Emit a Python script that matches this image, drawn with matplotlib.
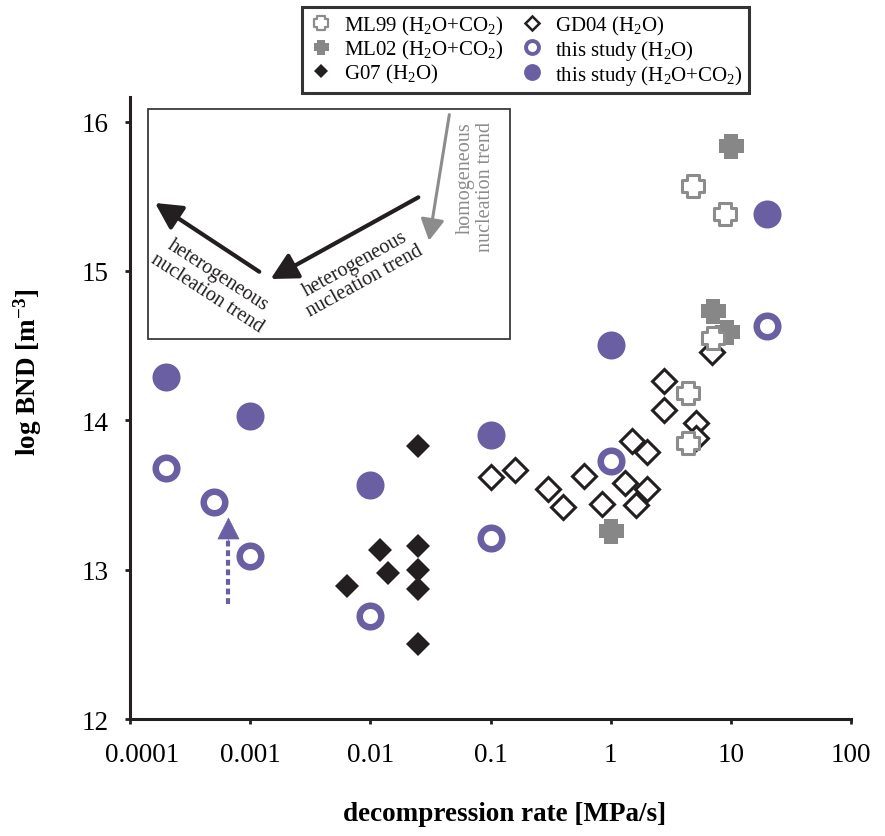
import matplotlib
matplotlib.use("Agg")
from matplotlib import pyplot as plt
from matplotlib.path import Path
from matplotlib.patches import Rectangle
from matplotlib.transforms import ScaledTranslation

plt.rcParams['font.family'] = 'Liberation Serif'
plt.rcParams['mathtext.fontset'] = 'custom'
plt.rcParams['mathtext.rm'] = 'Liberation Serif'
plt.rcParams['mathtext.it'] = 'Liberation Serif:italic'
plt.rcParams['mathtext.bf'] = 'Liberation Serif:bold'

### donnees (x : decompression rate [MPa/s], y : log BND)
ml99_rate = [4.83, 8.87, 7.13, 4.37, 4.37]
ml99_bnd = [15.57, 15.38, 14.55, 14.18, 13.85]

ml02_rate = [10.1, 7.13, 9.31, 1.01]
ml02_bnd = [15.84, 14.73, 14.59, 13.26]

g07_rate = [0.025, 0.0121, 0.025, 0.014, 0.025, 0.025, 0.0064, 0.025]
g07_bnd = [13.83, 13.13, 13.16, 12.98, 13.0, 12.87, 12.89, 12.5]

gd04_rate = [6.95, 2.79, 2.79, 5.15, 5.15, 1.5, 2.0, 0.6, 1.32, 2.0,
             0.85, 1.62, 0.4, 0.3, 0.1, 0.16]
gd04_bnd = [14.46, 14.26, 14.07, 13.98, 13.88, 13.86, 13.79, 13.63, 13.58, 13.54,
            13.44, 13.43, 13.42, 13.54, 13.62, 13.67]

h2o_rate = [0.0002, 0.0005, 0.001, 0.01, 0.1, 1, 20]
h2o_bnd = [13.68, 13.45, 13.09, 12.69, 13.215, 13.73, 14.63]

h2oco2_rate = [0.0002, 0.001, 0.01, 0.1, 1, 20]
h2oco2_bnd = [14.29, 14.03, 13.57, 13.9, 14.505, 15.38]

xticks = [0.0001, 0.001, 0.01, 0.1, 1, 10, 100]
xticklabels = ['0.0001', '0.001', '0.01', '0.1', '1', '10', '100']
yticks = [12, 13, 14, 15, 16]

# fleche pointillee (this study)
arrow_x = 0.00066
arrow_y0, arrow_ybase, arrow_ytip = 12.77, 13.2, 13.35

purple = '#6A5FA3'
gray = '#878787'
black = '#231F20'

# marqueur "croix" (plus epais)
a = 0.58
cross = Path([(-a, -1), (a, -1), (a, -a), (1, -a), (1, a), (a, a), (a, 1), (-a, 1),
              (-a, a), (-1, a), (-1, -a), (-a, -a), (-a, -1)],
             [Path.MOVETO] + [Path.LINETO] * 11 + [Path.CLOSEPOLY])

fig = plt.figure(figsize=(8.85, 8.37), dpi=100)
ax = fig.add_axes([130 / 885, 1 - 720 / 837, 721 / 885, 622 / 837])

h_gd04, = ax.plot(gd04_rate, gd04_bnd, ls='none', marker='D', ms=12.1, mfc='white',
                  mec=black, mew=2.2, label='GD04 (H$_2$O)')
h_g07, = ax.plot(g07_rate, g07_bnd, ls='none', marker='D', ms=12.7, mfc=black,
                 mec=black, mew=0, label='G07 (H$_2$O)')
h_ml02, = ax.plot(ml02_rate, ml02_bnd, ls='none', marker=cross, ms=18, mfc=gray,
                  mew=0, label='ML02 (H$_2$O+CO$_2$)')
h_ml99, = ax.plot(ml99_rate, ml99_bnd, ls='none', marker=cross, ms=15.8, mfc='white',
                  mec='#8C8C8C', mew=2.2, label='ML99 (H$_2$O+CO$_2$)')
h_h2o, = ax.plot(h2o_rate, h2o_bnd, ls='none', marker='o', ms=15.5, mfc='white',
                 mec=purple, mew=4.7, label='this study (H$_2$O)')
h_co2, = ax.plot(h2oco2_rate, h2oco2_bnd, ls='none', marker='o', ms=20.2, mfc=purple,
                 mew=0, label='this study (H$_2$O+CO$_2$)')

# fleche pointillee
ax.plot([arrow_x, arrow_x], [arrow_y0, arrow_ybase], color=purple, lw=3,
        ls=(0, (1.4, 0.9)), dash_capstyle='butt')
ax.annotate('', xy=(arrow_x, arrow_ytip), xytext=(arrow_x, arrow_ybase - 0.01),
            arrowprops=dict(arrowstyle='-|>,head_length=0.75,head_width=0.38',
                            mutation_scale=20, color=purple, lw=0.5,
                            shrinkA=0, shrinkB=0))

ax.set_xscale('log')
ax.set_xlim(0.0001, 100)
ax.set_ylim(12, 16.165)
ax.set_xticks(xticks, xticklabels)
ax.set_yticks(yticks)
ax.minorticks_off()
for s in ['top', 'right']:
    ax.spines[s].set_visible(False)
for s in ['left', 'bottom']:
    ax.spines[s].set_linewidth(2.2)
    ax.spines[s].set_color(black)
ax.tick_params(axis='both', direction='out', length=3.6, width=2, color=black,
               labelsize=19.5)
ax.tick_params(axis='x', pad=13)
ax.tick_params(axis='y', pad=12)

# encart : tendances de nucleation
ax.add_patch(Rectangle((0.025, 0.611), 0.502, 0.37, transform=ax.transAxes,
                       fill=False, lw=1.3, edgecolor='#3A3A3A', zorder=1))
black_arrow = dict(arrowstyle='-|>,head_length=0.8,head_width=0.42',
                   mutation_scale=20, color=black, lw=3, shrinkA=0, shrinkB=0)
gray_arrow = dict(arrowstyle='-|>,head_length=0.65,head_width=0.36',
                  mutation_scale=20, color='#8C8C8C', lw=2.2, shrinkA=0, shrinkB=0)
ax.annotate('', xy=(0.1951, 0.7074), xytext=(0.3999, 0.8387), xycoords='axes fraction',
            arrowprops=black_arrow)
ax.annotate('', xy=(0.0347, 0.8296), xytext=(0.1793, 0.7191), xycoords='axes fraction',
            arrowprops=black_arrow)
ax.annotate('', xy=(0.4147, 0.769), xytext=(0.4429, 0.9716), xycoords='axes fraction',
            arrowprops=gray_arrow)
ax.text(0.319, 0.7186, 'heterogeneous\nnucleation trend', transform=ax.transAxes,
        rotation=29, rotation_mode='anchor', ha='center', va='center',
        fontsize=14.5, linespacing=1.1, color=black)
ax.text(0.114, 0.70, 'heterogeneous\nnucleation trend', transform=ax.transAxes,
        rotation=-33, rotation_mode='anchor', ha='center', va='center',
        fontsize=14.5, linespacing=1.1, color=black)
ax.text(0.4785, 0.857, 'homogeneous\nnucleation trend', transform=ax.transAxes,
        rotation=90, rotation_mode='anchor', ha='center', va='center',
        multialignment='right', fontsize=14.5, linespacing=1.1, color='#8C8C8C')

fig.text(505 / 885, 1 - 815 / 837, 'decompression rate [MPa/s]', ha='center',
         va='center', fontsize=19.5, fontweight='bold')
fig.text(28 / 885, 1 - 372 / 837, r'log BND [m$^{\mathbf{-3}}$]', ha='center',
         va='center', rotation=90, fontsize=19.5, fontweight='bold')

handles = [h_ml99, h_ml02, h_g07, h_gd04, h_h2o, h_co2]
leg = fig.legend(handles, [h.get_label() for h in handles],
                 ncol=2, loc='upper center', bbox_to_anchor=(0.594, 0.99),
                 fontsize=15, markerscale=0.6, frameon=True, fancybox=False,
                 handlelength=1.2, handletextpad=0.5, columnspacing=0.8,
                 labelspacing=0.05, borderpad=0.3, borderaxespad=0)
leg.get_frame().set_edgecolor('black')
leg.get_frame().set_linewidth(2.2)
# traits plus fins dans la legende
for lh, mew in zip(leg.legend_handles, [1.6, 0, 0, 1.8, 2.8, 0]):
    lh.set_markeredgewidth(mew)

# decale le premier label (0.0001) vers la droite, comme sur l'original
lab0 = ax.get_xticklabels()[0]
lab0.set_transform(lab0.get_transform() + ScaledTranslation(0.12, 0, fig.dpi_scale_trans))

plt.savefig('out.png', dpi=100)
